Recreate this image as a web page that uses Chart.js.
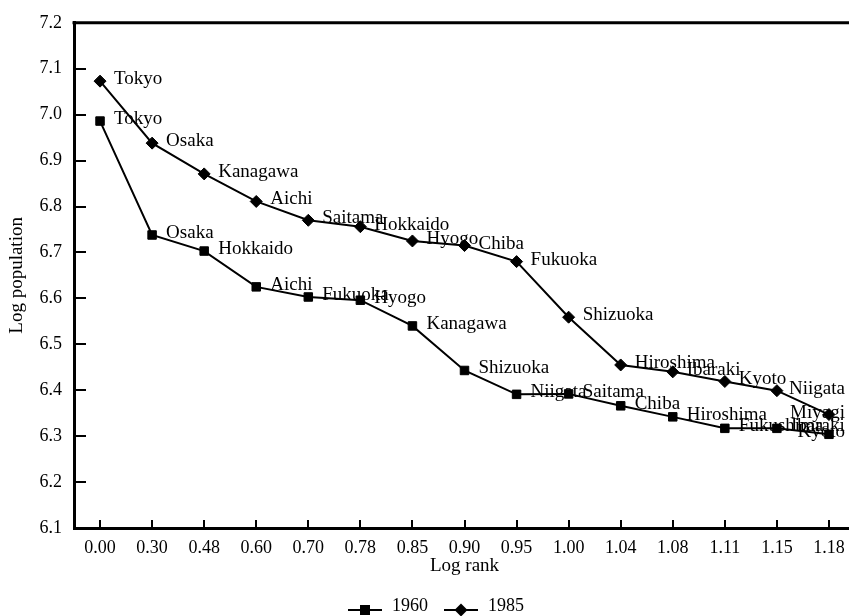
<!DOCTYPE html>
<html>
<head>
<meta charset="utf-8">
<title>Log rank vs log population of Japanese prefectures</title>
<style>
  html, body { margin: 0; padding: 0; background: #fff; overflow: hidden; }
  #wrap { width: 862px; height: 616px; }
</style>
<script src="https://cdn.jsdelivr.net/npm/chart.js@4/dist/chart.umd.min.js"></script>
</head>
<body>
<div id="wrap"><canvas id="chart" width="862" height="616"></canvas></div>
<script>
// Log rank categories along the x axis
const rankLabels = ['0.00', '0.30', '0.48', '0.60', '0.70', '0.78', '0.85', '0.90',
                    '0.95', '1.00', '1.04', '1.08', '1.11', '1.15', '1.18'];

// 1960: prefectures in rank order and their log population
const names1960 = ['Tokyo', 'Osaka', 'Hokkaido', 'Aichi', 'Fukuoka', 'Hyogo', 'Kanagawa',
                   'Shizuoka', 'Niigata', 'Saitama', 'Chiba', 'Hiroshima', 'Fukushima',
                   'Ibaraki', 'Kyoto'];
const pop1960 = [6.986, 6.738, 6.703, 6.625, 6.603, 6.596, 6.540, 6.443,
                 6.391, 6.392, 6.366, 6.342, 6.317, 6.317, 6.304];

// 1985: prefectures in rank order and their log population
const names1985 = ['Tokyo', 'Osaka', 'Kanagawa', 'Aichi', 'Saitama', 'Hokkaido', 'Hyogo',
                   'Chiba', 'Fukuoka', 'Shizuoka', 'Hiroshima', 'Ibaraki', 'Kyoto',
                   'Niigata', 'Miyagi'];
const pop1985 = [7.073, 6.938, 6.871, 6.811, 6.770, 6.756, 6.725, 6.715,
                 6.680, 6.559, 6.455, 6.440, 6.419, 6.399, 6.347];

// y axis range and tick step
const yMin = 6.1, yMax = 7.2, yStep = 0.1;

const SERIF = '"Liberation Serif", "Times New Roman", Times, serif';

// Small line-plus-marker glyphs used as legend symbols
function legendGlyph(shape) {
  const c = document.createElement('canvas');
  c.width = 45; c.height = 30;
  const g = c.getContext('2d');
  const cy = 19, x0 = 10, x1 = 44, cx = (x0 + x1) / 2;
  g.strokeStyle = '#000';
  g.lineWidth = 2;
  g.beginPath(); g.moveTo(x0, cy); g.lineTo(x1, cy); g.stroke();
  g.fillStyle = '#000';
  if (shape === 'rect') {
    g.fillRect(cx - 5, cy - 5, 10, 10);
  } else {
    g.beginPath();
    g.moveTo(cx, cy - 6.5); g.lineTo(cx + 6.5, cy);
    g.lineTo(cx, cy + 6.5); g.lineTo(cx - 6.5, cy);
    g.closePath(); g.fill();
  }
  return c;
}
const glyphs = [legendGlyph('rect'), legendGlyph('rectRot')];

// Top frame line, inward tick marks and the prefecture name beside each point
const decorations = {
  id: 'decorations',
  afterDraw(chart) {
    const { ctx, chartArea: a, scales: { x, y } } = chart;
    ctx.save();
    ctx.strokeStyle = '#000';
    ctx.lineWidth = 3;
    ctx.beginPath();
    ctx.moveTo(a.left - 1.5, a.top);
    ctx.lineTo(a.right, a.top);
    ctx.stroke();

    ctx.lineWidth = 2;
    ctx.beginPath();
    y.ticks.forEach((t, i) => {
      const py = Math.round(y.getPixelForTick(i));
      ctx.moveTo(a.left, py);
      ctx.lineTo(a.left + 12, py);
    });
    x.ticks.forEach((t, i) => {
      const px = Math.round(x.getPixelForTick(i));
      ctx.moveTo(px, a.bottom);
      ctx.lineTo(px, a.bottom - 8);
    });
    ctx.stroke();

    ctx.font = '19px ' + SERIF;
    ctx.fillStyle = '#000';
    ctx.textBaseline = 'middle';
    ctx.textAlign = 'left';
    chart.data.datasets.forEach((ds, di) => {
      const meta = chart.getDatasetMeta(di);
      meta.data.forEach((pt, i) => {
        const name = ds.names[i];
        const w = ctx.measureText(name).width;
        const tx = Math.min(pt.x + 14, a.right - 10 - w);
        ctx.fillText(name, tx, pt.y - 2);
      });
    });
    ctx.restore();
  }
};

new Chart(document.getElementById('chart'), {
  type: 'line',
  data: {
    labels: rankLabels,
    datasets: [
      {
        label: '1960',
        names: names1960,
        data: pop1960,
        borderColor: '#000',
        backgroundColor: '#000',
        borderWidth: 2,
        tension: 0,
        pointStyle: 'rect',
        pointRadius: 6,
        pointBorderWidth: 1,
        pointBackgroundColor: '#000',
        pointBorderColor: '#000'
      },
      {
        label: '1985',
        names: names1985,
        data: pop1985,
        borderColor: '#000',
        backgroundColor: '#000',
        borderWidth: 2,
        tension: 0,
        pointStyle: 'rectRot',
        pointRadius: 6,
        pointBorderWidth: 1,
        pointBackgroundColor: '#000',
        pointBorderColor: '#000'
      }
    ]
  },
  options: {
    responsive: false,
    animation: false,
    events: [],
    layout: { padding: { top: 15, right: 0, bottom: -9, left: 0 } },
    plugins: {
      tooltip: { enabled: false },
      legend: {
        position: 'bottom',
        align: 'center',
        labels: {
          usePointStyle: true,
          pointStyleWidth: 45,
          padding: 6,
          color: '#000',
          font: { family: SERIF, size: 18 },
          generateLabels(chart) {
            return chart.data.datasets.map((ds, i) => ({
              text: ds.label,
              pointStyle: glyphs[i],
              fillStyle: '#000',
              strokeStyle: '#000',
              lineWidth: 0,
              hidden: false,
              datasetIndex: i
            }));
          }
        }
      }
    },
    scales: {
      x: {
        type: 'category',
        offset: true,
        grid: { display: false, drawTicks: false },
        border: { display: true, color: '#000', width: 3 },
        ticks: {
          color: '#000',
          font: { family: SERIF, size: 18 },
          padding: 9,
          maxRotation: 0,
          autoSkip: false
        },
        title: {
          display: true,
          text: 'Log rank',
          color: '#000',
          font: { family: SERIF, size: 19 },
          padding: { top: 0, bottom: 14 }
        },
        afterFit(s) { s.height = 63; }
      },
      y: {
        min: yMin,
        max: yMax,
        grid: { display: false, drawTicks: false },
        border: { display: true, color: '#000', width: 3 },
        ticks: {
          stepSize: yStep,
          color: '#000',
          font: { family: SERIF, size: 18 },
          padding: 12,
          callback: v => Number(v).toFixed(1)
        },
        title: {
          display: true,
          text: 'Log population',
          color: '#000',
          font: { family: SERIF, size: 19 },
          padding: { top: 6, bottom: 0 }
        },
        afterFit(s) { s.width = 74; }
      }
    }
  },
  plugins: [decorations]
});
</script>
</body>
</html>
